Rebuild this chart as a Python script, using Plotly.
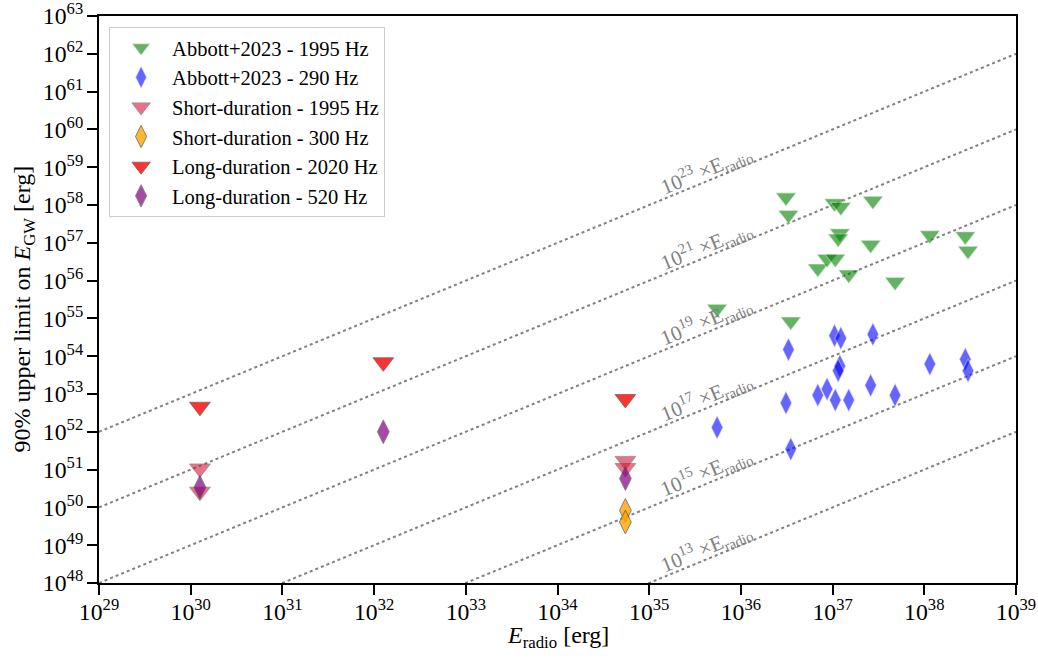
import plotly.graph_objects as go

# ---------------- data ----------------
abbott_E_radio = [5.5e35, 3.1e36, 3.3e36, 3.5e36, 6.9e36, 8.7e36, 1.07e37, 1.05e37, 1.23e37,
                  1.2e37, 1.15e37, 1.5e37, 2.6e37, 2.75e37, 4.8e37, 1.15e38, 2.8e38, 3.0e38]
abbott_EGW_1995 = [1.8e55, 1.6e58, 5.5e57, 8.3e54, 2.1e56, 3.8e56, 3.8e56, 1.12e58, 8.9e57,
                   1.8e57, 1.3e57, 1.45e56, 8.9e56, 1.3e58, 9.3e55, 1.6e57, 1.5e57, 6.2e56]
abbott_EGW_290 = [1.3e52, 5.8e52, 1.5e54, 3.5e51, 9.3e52, 1.35e53, 6.9e52, 3.5e54, 3.0e54,
                  5.5e53, 4.1e53, 6.9e52, 1.7e53, 3.8e54, 9.3e52, 6.2e53, 8.3e53, 4.1e53]

short_E_radio_1995 = [1.26e30, 1.26e30, 5.5e34, 5.5e34]
short_EGW_1995 = [1.07e51, 2.6e50, 1.7e51, 1.1e51]
short_E_radio_300 = [5.5e34, 5.5e34]
short_EGW_300 = [8.3e49, 4.1e49]

long_E_radio_2020 = [1.26e30, 1.26e32, 5.5e34]
long_EGW_2020 = [4.6e52, 6.9e53, 7.4e52]
long_E_radio_520 = [1.26e30, 1.26e32, 5.5e34]
long_EGW_520 = [3.4e50, 1.0e52, 5.8e50]

ratio_exponents = [13, 15, 17, 19, 21, 23]
line_E_radio = [1e29, 1e39]
label_E_radio_log = 35.62

x_title = "<i>E</i><sub>radio</sub> [erg]"
y_title = "90% upper limit on <i>E</i><sub>GW</sub> [erg]"

FONT = "Liberation Serif"

fig = go.Figure()

# reference lines
for n in ratio_exponents:
    fig.add_trace(go.Scatter(
        x=line_E_radio, y=[10**n * v for v in line_E_radio], mode="lines",
        line=dict(color="rgb(128,128,128)", width=2, dash="dot"),
        showlegend=False, hoverinfo="skip"))
    fig.add_annotation(
        x=label_E_radio_log, y=label_E_radio_log + n, xref="x", yref="y",
        text=f"10<sup>{n}</sup> ×E<sub>radio</sub>", showarrow=False,
        textangle=-22.5, yshift=12,
        font=dict(family=FONT, size=21, color="rgb(128,128,128)"))

tri_line_light = dict(color="rgba(255,255,255,0.55)", width=1.2)
grey_edge = dict(color="rgba(70,70,70,0.8)", width=1)

fig.add_trace(go.Scatter(
    x=abbott_E_radio, y=abbott_EGW_1995, mode="markers", name="Abbott+2023 - 1995 Hz",
    marker=dict(symbol="triangle-down", size=18, color="green", opacity=0.6, line=tri_line_light)))
fig.add_trace(go.Scatter(
    x=abbott_E_radio, y=abbott_EGW_290, mode="markers", name="Abbott+2023 - 290 Hz",
    marker=dict(symbol="diamond-tall", size=17, color="blue", opacity=0.6, line=tri_line_light)))
fig.add_trace(go.Scatter(
    x=short_E_radio_1995, y=short_EGW_1995, mode="markers", name="Short-duration - 1995 Hz",
    marker=dict(symbol="triangle-down", size=18, color="crimson", opacity=0.6, line=grey_edge)))
fig.add_trace(go.Scatter(
    x=short_E_radio_300, y=short_EGW_300, mode="markers", name="Short-duration - 300 Hz",
    marker=dict(symbol="diamond-tall", size=17, color="orange", opacity=0.8, line=grey_edge)))
fig.add_trace(go.Scatter(
    x=long_E_radio_2020, y=long_EGW_2020, mode="markers", name="Long-duration - 2020 Hz",
    marker=dict(symbol="triangle-down", size=18, color="red", opacity=0.8, line=grey_edge)))
fig.add_trace(go.Scatter(
    x=long_E_radio_520, y=long_EGW_520, mode="markers", name="Long-duration - 520 Hz",
    marker=dict(symbol="diamond-tall", size=17, color="purple", opacity=0.7, line=grey_edge)))

axis_common = dict(
    type="log", showline=True, linecolor="black", linewidth=2, mirror=True,
    ticks="outside", ticklen=10, tickwidth=2, tickcolor="black", dtick=1,
    exponentformat="power", showgrid=False, zeroline=False, automargin=False,
    ticklabeloverflow="allow",
    tickfont=dict(family=FONT, size=19, color="black"))

# axis titles as annotations (precise placement)
fig.add_annotation(text=x_title, xref="paper", yref="paper", x=0.5, y=0,
                   yanchor="middle", xanchor="center", yshift=-54, showarrow=False,
                   font=dict(family=FONT, size=24, color="black"))
fig.add_annotation(text=y_title, xref="paper", yref="paper", x=0, y=0.5,
                   yanchor="middle", xanchor="center", xshift=-76, yshift=-10,
                   textangle=-90, showarrow=False,
                   font=dict(family=FONT, size=24, color="black"))

fig.update_layout(
    width=1038, height=658, autosize=False,
    margin=dict(l=99, r=22, t=16, b=75),
    paper_bgcolor="white", plot_bgcolor="white",
    font=dict(family=FONT, color="black"),
    xaxis=dict(range=[28.9999, 39.0001], ticklabelstandoff=-3, **axis_common),
    yaxis=dict(range=[47.9999, 63.0001], **axis_common),
    legend=dict(x=0.011, y=0.981, xanchor="left", yanchor="top",
                bgcolor="white", bordercolor="#cccccc", borderwidth=1,
                itemwidth=52,
                font=dict(family=FONT, size=20.5), tracegroupgap=0),
)

# remove the default 8px page margin so the figure fills the window exactly
fig.write_html("out.html", config={"displayModeBar": False},
               post_script="document.body.style.margin='0';document.body.style.overflow='hidden';")
